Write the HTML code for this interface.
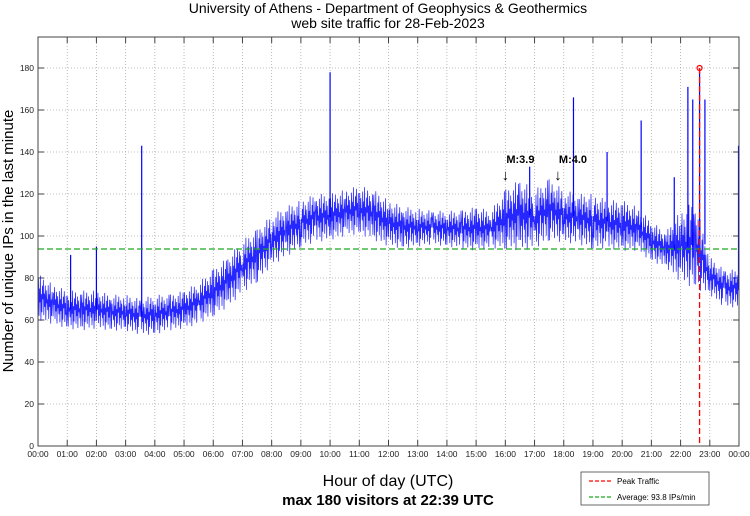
<!DOCTYPE html>
<html><head><meta charset="utf-8"><style>
body{margin:0;background:#fff;width:750px;height:511px;overflow:hidden;font-family:"Liberation Sans",sans-serif}
svg text{font-family:"Liberation Sans",sans-serif}
</style></head><body>
<svg id="c" width="750" height="511" viewBox="0 0 750 511" xmlns="http://www.w3.org/2000/svg">
<text x="388" y="13" font-size="14" text-anchor="middle">University of Athens - Department of Geophysics &amp; Geothermics</text>
<text x="388" y="28" font-size="14" text-anchor="middle">web site traffic for 28-Feb-2023</text>
<text transform="translate(13,241) rotate(-90)" font-size="15" text-anchor="middle">Number of unique IPs in the last minute</text>
<text x="388" y="486" font-size="16" text-anchor="middle">Hour of day (UTC)</text>
<text x="388" y="505" font-size="15" font-weight="bold" text-anchor="middle">max 180 visitors at 22:39 UTC</text>
<g id="grid"></g><g id="series"></g><g id="overlay"></g>
<rect x="38" y="37" width="701" height="409" fill="none" stroke="#444" stroke-width="1"/>
<g>
<rect x="581" y="472" width="128" height="33" fill="#fff" stroke="#444" stroke-width="0.8"/>
<line x1="589" y1="481" x2="612" y2="481" stroke="#f00" stroke-dasharray="4,2" stroke-width="1.2"/>
<text x="617" y="484" font-size="8">Peak Traffic</text>
<line x1="589" y1="497" x2="612" y2="497" stroke="#2a2" stroke-dasharray="4,2" stroke-width="1.2"/>
<text x="617" y="500" font-size="8">Average: 93.8 IPs/min</text>
</g>
</svg>
<script>
const hourLabels=["00:00","01:00","02:00","03:00","04:00","05:00","06:00","07:00","08:00","09:00","10:00","11:00","12:00","13:00","14:00","15:00","16:00","17:00","18:00","19:00","20:00","21:00","22:00","23:00","00:00"];
const yTicks=[0,20,40,60,80,100,120,140,160,180];
const slotLow=[60,58,56,55,56,55,55,53,53,55,56,58,62,66,73,78,86,90,95,97,98,100,101,98,95,94,95,96,95,94,93,94,94,93,94,98,97,96,94,94,93,93,88,85,78,75,72,66];
const slotHigh=[82,77,74,74,74,72,72,70,72,72,74,78,84,90,98,103,110,114,117,120,120,122,124,122,117,114,113,112,112,112,114,112,122,127,122,127,122,120,120,117,117,114,107,102,112,117,90,84];
const spikeMin=[67,120,213,600,1010,1100,1169,1239,1307,1335,1345,1359,1370,1439];
const spikeVal=[91,95,143,178,133,166,140,155,128,171,165,180,165,143];
const avgVal=93.8, peakMin=1359, peakVal=180;
const X0=38,X1=739,Y0=446,YTOP=68;
const xs=m=>X0+(X1-X0)*m/1440, ys=v=>Y0-(Y0-YTOP)*v/180;
const NS="http://www.w3.org/2000/svg";
function mk(p,t,a){const e=document.createElementNS(NS,t);for(const k in a)e.setAttribute(k,a[k]);p.appendChild(e);return e;}
const g=document.getElementById('grid');
hourLabels.forEach((l,i)=>{const x=xs(i*60);
 if(i>0&&i<24){const gl=mk(g,'line',{x1:x,x2:x,y1:37,y2:446,stroke:'#aaa','stroke-dasharray':'1,2','stroke-width':0.8});
 
 }
 mk(g,'line',{x1:x,x2:x,y1:446,y2:440,stroke:'#444'});mk(g,'line',{x1:x,x2:x,y1:37,y2:43,stroke:'#444'});
 const t=mk(g,'text',{x:x,y:457,'font-size':8.5,'text-anchor':'middle',fill:'#222'});t.textContent=l;
 
 });
yTicks.forEach(v=>{const y=ys(v);
 if(v>0){const gl=mk(g,'line',{x1:38,x2:739,y1:y,y2:y,stroke:'#aaa','stroke-dasharray':'1,2','stroke-width':0.8});
 
 }
 mk(g,'line',{x1:38,x2:44,y1:y,y2:y,stroke:'#444'});mk(g,'line',{x1:733,x2:739,y1:y,y2:y,stroke:'#444'});
 const t=mk(g,'text',{x:34,y:y+3,'font-size':8.5,'text-anchor':'end',fill:'#222'});t.textContent=v;
 
 });
const s=document.getElementById('series');
const frac=[0.3,0.9,0.1,0.7,0.4,1.0,0.0,0.6,0.2,0.8,0.5,0.95,0.15,0.65,0.35,0.85,0.05,0.75,0.45,0.55];
let pts=[];const n=slotLow.length,per=30;
for(let i=0;i<n;i++){for(let j=0;j<per;j++){const m=i*per+j;
 const k=(i+1<n)?j/per:0;const lo=slotLow[i]*(1-k)+(slotLow[Math.min(i+1,n-1)])*k;const hi=slotHigh[i]*(1-k)+(slotHigh[Math.min(i+1,n-1)])*k;
 const f=frac[(j+i*7)%frac.length];pts.push(xs(m).toFixed(1)+','+ys(lo+(hi-lo)*f).toFixed(1));}}
const pl=mk(s,'polyline',{points:pts.join(' '),fill:'none',stroke:'#0000ff','stroke-width':0.75,'stroke-opacity':0.85});


spikeMin.forEach((m,i)=>{const sl=Math.min(Math.floor(m/per),n-1);const base=(slotLow[sl]+slotHigh[sl])/2;
 const l=mk(s,'line',{x1:xs(m),x2:xs(m),y1:ys(base),y2:ys(spikeVal[i]),stroke:'#0000ff','stroke-width':1.2});
 
 });
const o=document.getElementById('overlay');
const av=mk(o,'line',{x1:38,x2:739,y1:ys(avgVal),y2:ys(avgVal),stroke:'#22aa22','stroke-width':1.3,'stroke-dasharray':'6,3'});


const pk=mk(o,'line',{x1:xs(peakMin),x2:xs(peakMin),y1:ys(peakVal),y2:446,stroke:'#ff0000','stroke-width':1.3,'stroke-dasharray':'6,3'});


const pc=mk(o,'circle',{cx:xs(peakMin),cy:ys(peakVal),r:2.5,fill:'none',stroke:'#ff0000','stroke-width':1.2});


const quakeLabels=["M:3.9","M:4.0"],quakeMin=[960,1068];
quakeLabels.forEach((q,i)=>{const x=xs(quakeMin[i]);
 const t=mk(o,'text',{x:x+1,y:163,'font-size':11,'font-weight':'bold'});t.textContent=q;
 
 
 const a=mk(o,'text',{x:x,y:180,'font-size':15,'text-anchor':'middle'});a.textContent='↓';
 
 });
</script>
</body></html>
